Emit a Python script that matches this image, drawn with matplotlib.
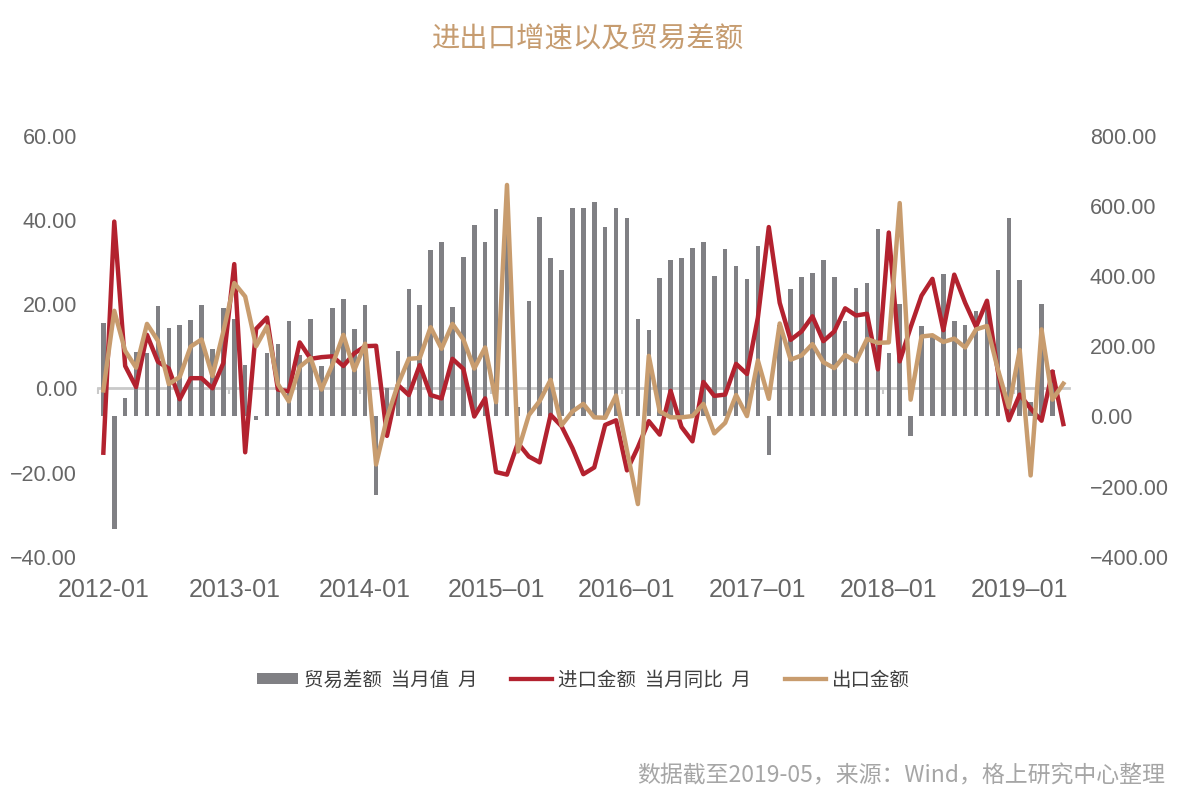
import numpy as np
import matplotlib
matplotlib.use("Agg")
import matplotlib.pyplot as plt
from matplotlib.patches import Patch
from matplotlib.lines import Line2D
from matplotlib.ticker import FuncFormatter

plt.rcParams['font.family'] = ['Liberation Sans', 'Noto Sans CJK SC', 'DejaVu Sans']

# ---------------- data (2012-01 .. 2019-05, monthly) ----------------
months = [f"{y}-{m:02d}" for y in range(2012, 2020) for m in range(1, 13)][:89]

# 出口金额 当月同比 (%)
export_yoy = [
    -0.5, 18.4, 8.9, 4.9, 15.3, 11.3, 1.0, 2.7, 9.9, 11.6, 2.9, 13.5,
    25.0, 21.8, 10.0, 14.7, 1.0, -3.1, 5.1, 7.2, -0.3, 5.6, 12.7, 4.3,
    10.6, -18.1, -7.0, 0.9, 7.0, 7.2, 14.5, 9.4, 15.3, 11.6, 4.7, 9.7,
    -3.3, 48.3, -15.0, -6.4, -3.0, 2.0, -8.8, -5.5, -3.7, -6.9, -7.0, -1.7,
    -14.8, -27.5, 7.7, -5.5, -6.9, -6.9, -6.6, -3.7, -10.7, -8.2, -1.6, -6.6,
    6.6, -2.5, 15.4, 6.8, 7.8, 10.5, 6.2, 4.8, 7.9, 6.4, 11.7, 10.8,
    10.9, 44.0, -2.7, 12.3, 12.6, 11.0, 11.8, 9.7, 14.0, 14.8, 4.5, -4.5,
    9.1, -20.7, 14.0, -2.7, 1.1,
]

# 进口金额 当月同比 (%)
import_yoy = [
    -15.3, 39.6, 5.3, 0.3, 12.7, 6.3, 4.7, -2.6, 2.4, 2.4, 0.0, 6.0,
    29.5, -15.2, 14.1, 16.8, -0.3, -0.7, 10.9, 7.0, 7.4, 7.6, 5.3, 8.3,
    10.0, 10.1, -11.3, 0.8, -1.6, 5.5, -1.6, -2.4, 7.0, 4.6, -6.7, -2.4,
    -19.9, -20.5, -13.0, -16.2, -17.6, -6.3, -9.0, -14.2, -20.4, -18.8, -8.7, -7.6,
    -19.5, -14.0, -7.8, -11.0, -0.6, -9.2, -12.6, 1.5, -1.8, -1.5, 5.8, 3.4,
    16.8, 38.3, 20.3, 11.5, 13.5, 17.1, 11.2, 13.5, 19.0, 17.3, 17.7, 4.5,
    37.0, 6.4, 14.5, 22.0, 26.0, 13.8, 27.0, 20.3, 14.6, 20.8, 4.0, -7.6,
    -1.5, -4.8, -7.7, 4.0, -8.5,
]

# 贸易差额 当月值 (亿美元)
trade_balance = [
    267, -322, 51, 183, 180, 314, 252, 261, 274, 318, 193, 309,
    278, 147, -9, 181, 205, 271, 174, 278, 143, 309, 335, 249,
    317, -223, 82, 185, 363, 318, 474, 497, 312, 455, 545, 497,
    590, 598, 26, 330, 568, 450, 417, 593, 593, 610, 539, 593,
    566, 278, 247, 395, 447, 451, 481, 498, 401, 478, 428, 392,
    485, -111, 260, 362, 397, 409, 447, 397, 271, 366, 381, 535,
    182, 319, -55, 259, 233, 407, 272, 261, 299, 318, 416, 565,
    390, 40, 321, 133, np.nan,
]

year_labels = ['2012-01', '2013-01', '2014-01', '2015\u201301', '2016\u201301',
               '2017\u201301', '2018\u201301', '2019\u201301']
left_ticks = [-40, -20, 0, 20, 40, 60]
right_ticks = [-400, -200, 0, 200, 400, 600, 800]

title = '进出口增速以及贸易差额'
legend_labels = ['贸易差额  当月值  月', '进口金额  当月同比  月', '出口金额']
source = '数据截至2019-05，来源：Wind，格上研究中心整理'

# ---------------- styling ----------------
C_BAR = '#808084'
C_RED = '#b3222f'
C_TAN = '#c89c6e'
C_TICK = '#666666'
C_ZERO = '#c9c9c9'
CJK = ['Noto Sans CJK SC', 'DejaVu Sans']

W, H = 1178, 806
fig = plt.figure(figsize=(W / 100, H / 100), dpi=100)
ax = fig.add_axes([97.9 / W, (H - 556.7) / H, 970.9 / W, 421.0 / H])

x = np.arange(len(months))

# bars on host axes (right scale)
ax.bar(x, trade_balance, width=0.42, color=C_BAR, zorder=2)
ax.set_xlim(-0.5, len(months) - 0.5)
ax.set_ylim(right_ticks[0], right_ticks[-1])
ax.set_yticks(right_ticks)
ax.yaxis.set_major_formatter(FuncFormatter(lambda v, p: f"{v:.2f}".replace('-', '\u2212')))

# zero line of the left scale with year-boundary ticks
sec = ax.secondary_xaxis(0.4)
sec.set_xticks(np.arange(-0.5, len(months), 12))
sec.tick_params(axis='x', length=4, width=1.5, color=C_ZERO, labelbottom=False,
                labeltop=False, direction='out')
for s in sec.spines.values():
    s.set_color(C_ZERO)
    s.set_linewidth(2)

# lines on twin axes (left scale)
ax2 = ax.twinx()
ax2.plot(x, import_yoy, color=C_RED, lw=3.2, solid_joinstyle='round', zorder=3)
ax2.plot(x, export_yoy, color=C_TAN, lw=3.2, solid_joinstyle='round', zorder=4)
ax2.set_ylim(left_ticks[0], left_ticks[-1])
ax2.set_yticks(left_ticks)
ax2.yaxis.set_major_formatter(FuncFormatter(lambda v, p: f"{v:.2f}".replace('-', '\u2212')))

ax.yaxis.tick_right()
ax2.yaxis.tick_left()

ax.set_xticks(x[::12])
ax.set_xticklabels(year_labels)

for a in (ax, ax2):
    for s in a.spines.values():
        s.set_visible(False)

ax.tick_params(axis='x', length=0, pad=15.5, labelsize=18, labelcolor=C_TICK)
ax.tick_params(axis='y', length=0, pad=15, labelsize=15.5, labelcolor=C_TICK)
ax2.tick_params(axis='y', length=0, pad=15, labelsize=15.5, labelcolor=C_TICK)
for lab in ax.get_yticklabels():
    lab.set_horizontalalignment('left')

# title
fig.text(588 / W, 1 - 38 / H, title, ha='center', va='center', fontsize=20.4,
         color='#c69c70', family=CJK)

# legend
handles = [Patch(facecolor=C_BAR, edgecolor='none'),
           Line2D([], [], color=C_RED, lw=3.1),
           Line2D([], [], color=C_TAN, lw=3.1)]
leg = fig.legend(handles, legend_labels, loc='center', bbox_to_anchor=(583.5 / W, 1 - 680 / H),
                 ncol=3, frameon=False, handlelength=2.1, handleheight=0.5,
                 handletextpad=0.3, columnspacing=1.75,
                 prop={'family': CJK, 'size': 14})
for t in leg.get_texts():
    t.set_color('#404040')

# source note
fig.text(1165 / W, 1 - 776 / H, source, ha='right', va='center', fontsize=16.5,
         color='#a6a6a6', family=CJK)

fig.savefig('out.png', dpi=100)
